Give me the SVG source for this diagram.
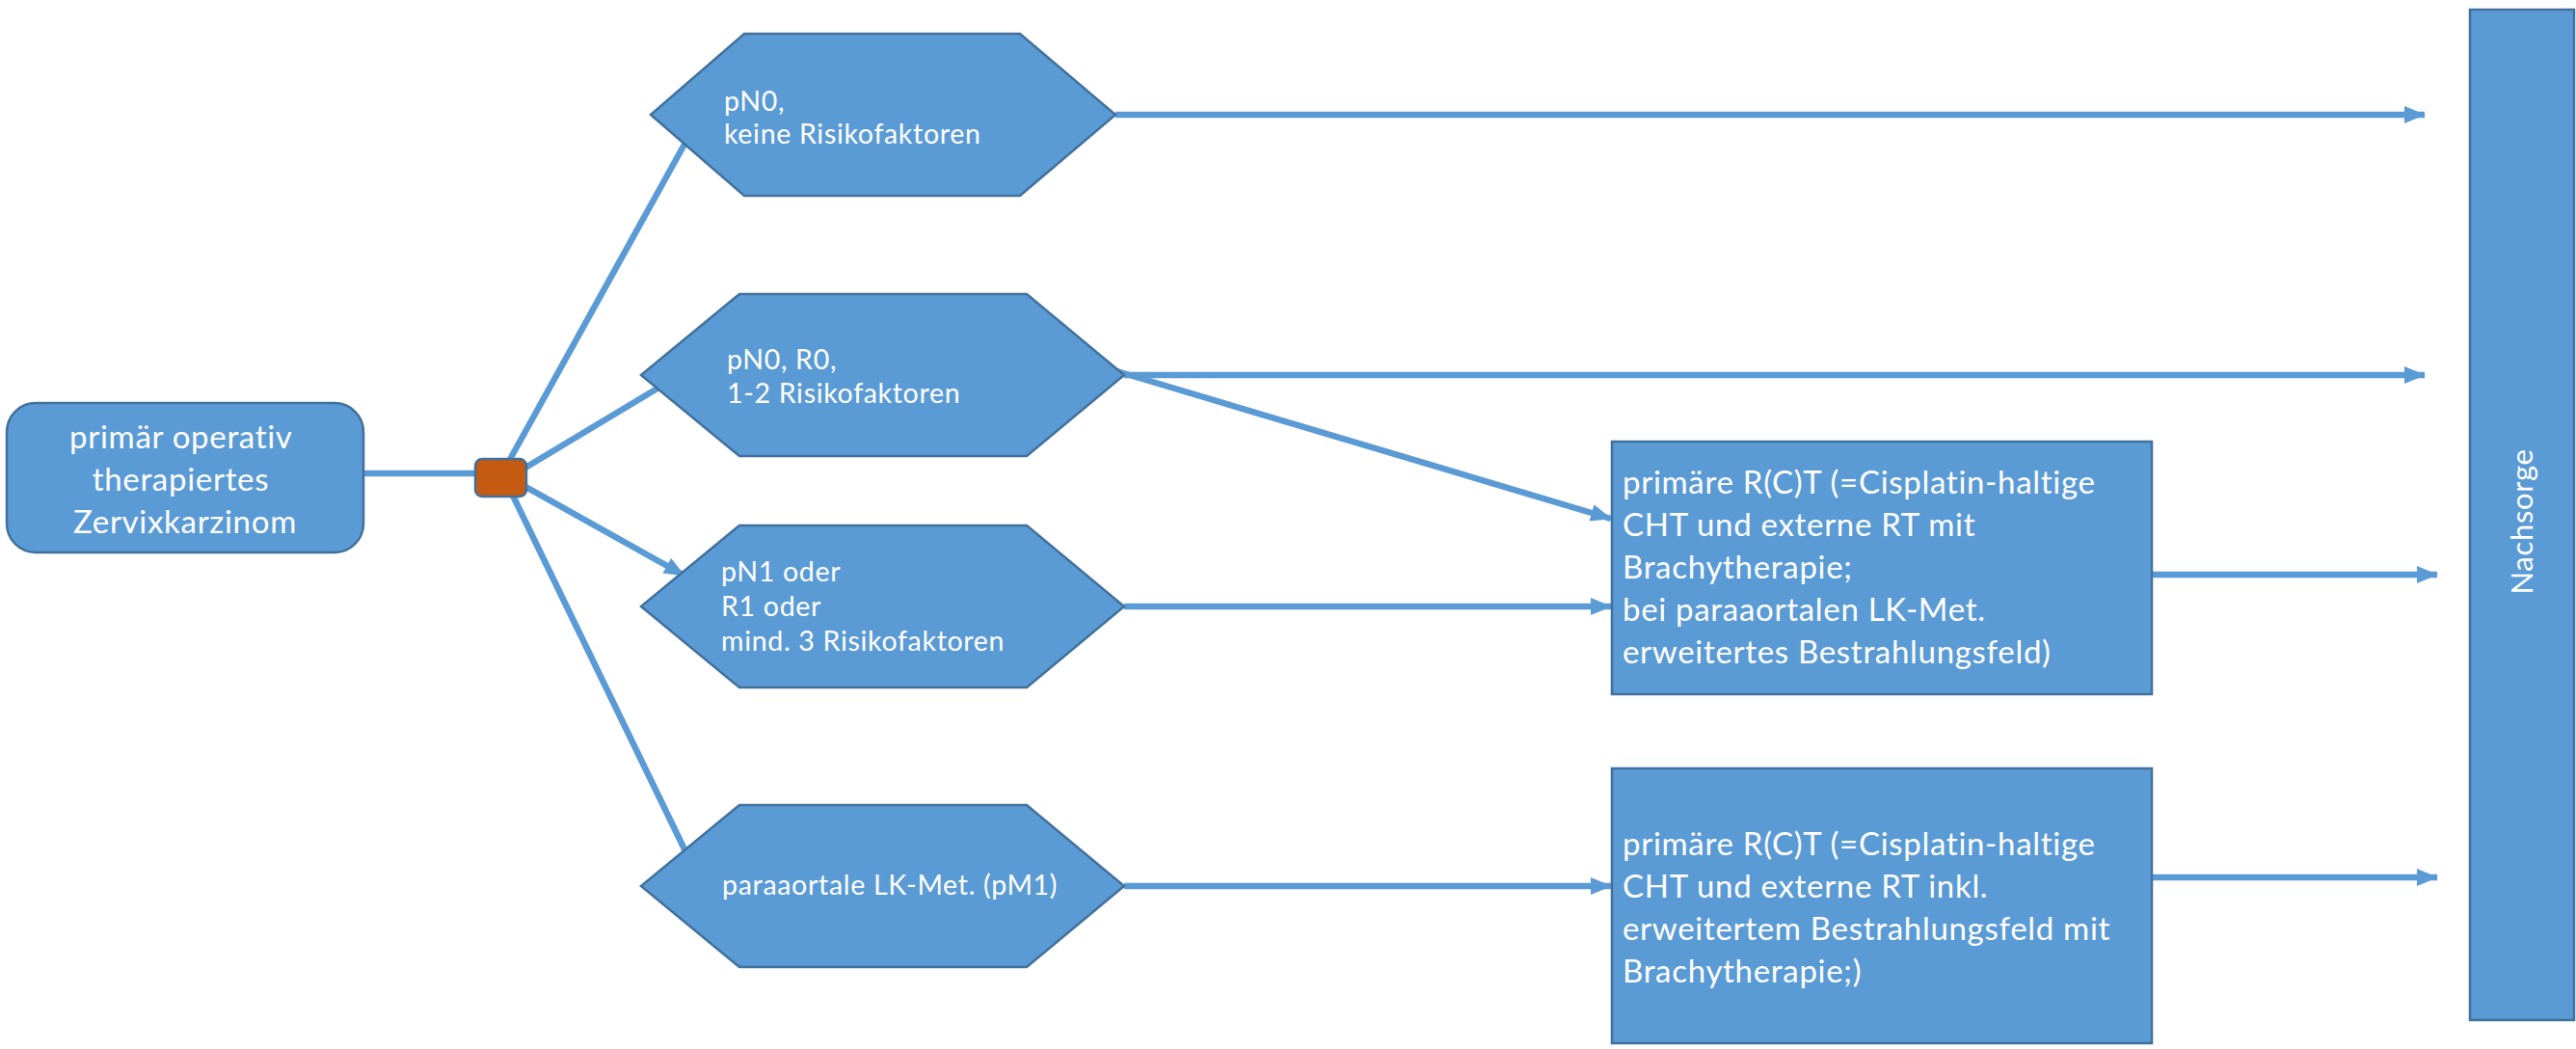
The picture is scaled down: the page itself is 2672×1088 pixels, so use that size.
<svg xmlns="http://www.w3.org/2000/svg" width="2672" height="1088" viewBox="0 0 2672 1088">
  <style>
    .box { fill: #5B9BD5; stroke: #41719C; stroke-width: 2.5; }
    .knot { fill: #C55A11; stroke: #41719C; stroke-width: 2.5; }
    .edge { stroke: #5B9BD5; stroke-width: 6.5; fill: none; }
    .txt { fill: #FFFFFF; font-family: Lato, "Liberation Sans", sans-serif; font-variant-ligatures: none; letter-spacing: 0.7px; }
    .big { font-size: 33px; }
    .small { font-size: 28.5px; }
  </style>
  <defs>
    <marker id="arrow" markerUnits="userSpaceOnUse" markerWidth="22" markerHeight="18" refX="21" refY="9" orient="auto">
      <path d="M0,0 L22,9 L0,18 Z" fill="#5B9BD5"/>
    </marker>
  </defs>
  <rect width="2672" height="1088" fill="#FFFFFF"/>

  <!-- connectors, drawn first so the shapes sit on top of them -->
  <g id="connectors">
    <line class="edge" x1="377" y1="491" x2="500" y2="491"/>
    <line class="edge" x1="527" y1="480" x2="712" y2="146"/>
    <line class="edge" x1="540" y1="488" x2="700" y2="392"/>
    <line class="edge" x1="540" y1="502" x2="710" y2="597" marker-end="url(#arrow)"/>
    <line class="edge" x1="530" y1="510" x2="712" y2="885"/>
    <line class="edge" x1="1157" y1="119" x2="2515" y2="119" marker-end="url(#arrow)"/>
    <line class="edge" x1="1166" y1="389" x2="2515" y2="389" marker-end="url(#arrow)"/>
    <line class="edge" x1="1155" y1="384" x2="1671" y2="538" marker-end="url(#arrow)"/>
    <line class="edge" x1="1166" y1="629" x2="1671" y2="629" marker-end="url(#arrow)"/>
    <line class="edge" x1="1166" y1="919" x2="1671" y2="919" marker-end="url(#arrow)"/>
    <line class="edge" x1="2232" y1="596" x2="2528" y2="596" marker-end="url(#arrow)"/>
    <line class="edge" x1="2232" y1="910" x2="2528" y2="910" marker-end="url(#arrow)"/>
  </g>

  <g id="start">
    <rect class="box" x="7" y="418" width="370" height="155" rx="30"/>
    <text class="txt big" text-anchor="middle">
      <tspan x="192" y="465">primär operativ</tspan>
      <tspan x="192" y="509">therapiertes</tspan>
      <tspan x="192" y="553">Zervixkarzinom</tspan>
    </text>
  </g>

  <g id="split">
    <rect class="knot" x="493" y="476" width="53" height="39" rx="7"/>
  </g>

  <g id="pn0-none">
    <polygon class="box" points="675,119 772,35 1058,35 1157,119 1058,203 772,203"/>
    <text class="txt small">
      <tspan x="751" y="115">pN0,</tspan>
      <tspan x="751" y="149">keine Risikofaktoren</tspan>
    </text>
  </g>

  <g id="pn0-r0">
    <polygon class="box" points="665,389 767,305 1065,305 1166,389 1065,473 767,473"/>
    <text class="txt small">
      <tspan x="754" y="383">pN0, R0,</tspan>
      <tspan x="754" y="418">1-2 Risikofaktoren</tspan>
    </text>
  </g>

  <g id="pn1">
    <polygon class="box" points="665,629 767,545 1065,545 1166,629 1065,713 767,713"/>
    <text class="txt small">
      <tspan x="748" y="603">pN1 oder</tspan>
      <tspan x="748" y="639">R1 oder</tspan>
      <tspan x="748" y="675">mind. 3 Risikofaktoren</tspan>
    </text>
  </g>

  <g id="pm1">
    <polygon class="box" points="665,919 767,835 1065,835 1166,919 1065,1003 767,1003"/>
    <text class="txt small" x="749" y="928">paraaortale LK-Met. (pM1)</text>
  </g>

  <g id="rct-1">
    <rect class="box" x="1672" y="458" width="560" height="262"/>
    <text class="txt big">
      <tspan x="1683" y="512">primäre R(C)T (=Cisplatin-haltige</tspan>
      <tspan x="1683" y="556">CHT und externe RT mit</tspan>
      <tspan x="1683" y="600">Brachytherapie;</tspan>
      <tspan x="1683" y="644">bei paraaortalen LK-Met.</tspan>
      <tspan x="1683" y="688">erweitertes Bestrahlungsfeld)</tspan>
    </text>
  </g>

  <g id="rct-2">
    <rect class="box" x="1672" y="797" width="560" height="285"/>
    <text class="txt big">
      <tspan x="1683" y="887">primäre R(C)T (=Cisplatin-haltige</tspan>
      <tspan x="1683" y="931">CHT und externe RT inkl.</tspan>
      <tspan x="1683" y="975">erweitertem Bestrahlungsfeld mit</tspan>
      <tspan x="1683" y="1019">Brachytherapie;)</tspan>
    </text>
  </g>

  <g id="nachsorge">
    <rect class="box" x="2562" y="10" width="108" height="1048"/>
    <text class="txt" font-size="31" text-anchor="middle" transform="translate(2627,541) rotate(-90)">Nachsorge</text>
  </g>
</svg>
